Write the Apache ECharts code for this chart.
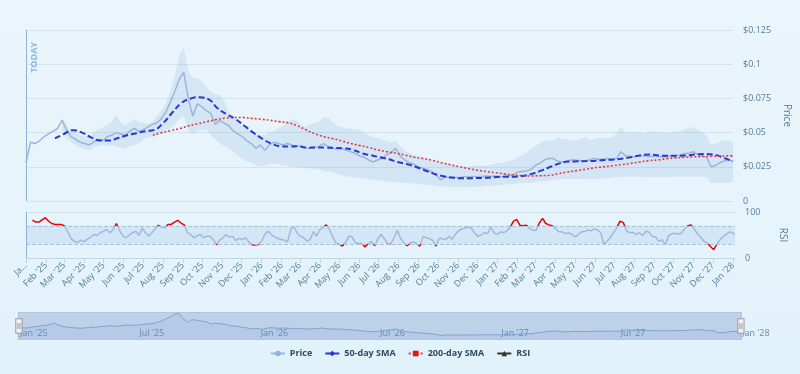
<!DOCTYPE html>
<html>
<head>
<meta charset="utf-8">
<script src="https://cdn.jsdelivr.net/npm/echarts@6/dist/echarts.min.js"></script>
<style>html,body{margin:0;padding:0;background:#e7f4fb;}#chart{width:800px;height:374px;}</style>
</head>
<body>
<div id="chart"></div>
<script>
// ---------- data ----------
const START_DATE = '2025-01-01';
const DAY_COUNT = 1099; // daily categories 2025-01-01 .. 2028-01-04
const priceTicks = [0, 0.025, 0.05, 0.075, 0.1, 0.125];
const rsiTicks = [0, 100];
const rsiLevels = [30, 70];

// Price, weekly samples from day 0 (last value = end of range)
const priceStartDay = 0, priceStep = 7;
const priceValues = [
  0.028, 0.043, 0.042, 0.044, 0.047, 0.049, 0.051, 0.053, 0.059, 0.052,
  0.047, 0.045, 0.043, 0.042, 0.041, 0.043, 0.045, 0.044, 0.047, 0.048,
  0.050, 0.049, 0.048, 0.051, 0.053, 0.051, 0.052, 0.054, 0.056, 0.057,
  0.060, 0.065, 0.072, 0.080, 0.089, 0.094, 0.075, 0.062, 0.071, 0.069,
  0.066, 0.064, 0.056, 0.059, 0.057, 0.055, 0.051, 0.049, 0.047, 0.044,
  0.042, 0.0385, 0.041, 0.037, 0.041, 0.043, 0.042, 0.041, 0.042, 0.041,
  0.040, 0.040, 0.039, 0.0385, 0.039, 0.040, 0.042, 0.040, 0.0385, 0.038,
  0.0385, 0.037, 0.036, 0.035, 0.033, 0.032, 0.030, 0.0285, 0.030, 0.031,
  0.034, 0.035, 0.0385, 0.033, 0.030, 0.028, 0.027, 0.025, 0.024, 0.023,
  0.0214, 0.019, 0.0154, 0.0178, 0.017, 0.0175, 0.017, 0.018, 0.0175, 0.018,
  0.0178, 0.018, 0.0182, 0.018, 0.0183, 0.0178, 0.018, 0.0185, 0.019, 0.021,
  0.0215, 0.022, 0.023, 0.026, 0.0276, 0.030, 0.031, 0.031, 0.029, 0.0285,
  0.029, 0.030, 0.030, 0.0295, 0.0295, 0.030, 0.031, 0.0305, 0.0305, 0.031,
  0.0305, 0.031, 0.036, 0.033, 0.0325, 0.0324, 0.033, 0.033, 0.0325, 0.0327,
  0.0325, 0.0324, 0.0324, 0.033, 0.033, 0.0335, 0.0345, 0.035, 0.036, 0.034,
  0.033, 0.032, 0.025, 0.026, 0.028, 0.0295, 0.030,
  0.029
];

// Price envelope, weekly samples from day 56
const bandStartDay = 56, bandStep = 7;
const bandUpper = [
  0.061, 0.056, 0.052, 0.050, 0.048, 0.047, 0.047, 0.050, 0.052, 0.054,
  0.056, 0.058, 0.063, 0.058, 0.055, 0.058, 0.060, 0.058, 0.057, 0.056,
  0.058, 0.062, 0.066, 0.071, 0.080, 0.092, 0.106, 0.112, 0.095, 0.090,
  0.090, 0.087, 0.0835, 0.080, 0.078, 0.0775, 0.073, 0.065, 0.062, 0.058,
  0.055, 0.053, 0.051, 0.049, 0.048, 0.048, 0.050, 0.051, 0.053, 0.055,
  0.057, 0.060, 0.059, 0.056, 0.054, 0.056, 0.057, 0.058, 0.061, 0.061,
  0.058, 0.055, 0.054, 0.053, 0.053, 0.052, 0.052, 0.050, 0.048, 0.047,
  0.046, 0.0446, 0.044, 0.043, 0.044, 0.040, 0.037, 0.035, 0.0336, 0.033,
  0.0324, 0.031, 0.030, 0.029, 0.028, 0.0276, 0.027, 0.026, 0.0256, 0.0255,
  0.025, 0.0255, 0.026, 0.026, 0.026, 0.0263, 0.027, 0.0276, 0.028, 0.029,
  0.030, 0.032, 0.0335, 0.035, 0.038, 0.040, 0.042, 0.0446, 0.044, 0.044,
  0.047, 0.045, 0.0455, 0.044, 0.0445, 0.045, 0.047, 0.045, 0.045, 0.046,
  0.046, 0.046, 0.0465, 0.0495, 0.054, 0.050, 0.050, 0.0505, 0.050, 0.0495,
  0.050, 0.0505, 0.0505, 0.050, 0.0495, 0.050, 0.0505, 0.051, 0.052, 0.054,
  0.0535, 0.052, 0.050, 0.048, 0.041, 0.042, 0.0435, 0.0446, 0.044,
  0.043
];
const bandLower = [
  0.052, 0.047, 0.043, 0.041, 0.039, 0.038, 0.037, 0.039, 0.040, 0.041,
  0.040, 0.041, 0.040, 0.039, 0.0385, 0.040, 0.041, 0.042, 0.045, 0.046,
  0.047, 0.048, 0.050, 0.052, 0.053, 0.056, 0.060, 0.062, 0.052, 0.049,
  0.051, 0.052, 0.052, 0.048, 0.045, 0.042, 0.040, 0.0385, 0.036, 0.033,
  0.031, 0.029, 0.0285, 0.026, 0.025, 0.026, 0.027, 0.0275, 0.027, 0.026,
  0.0255, 0.025, 0.025, 0.0245, 0.024, 0.024, 0.0235, 0.023, 0.022, 0.0214,
  0.021, 0.020, 0.019, 0.018, 0.0178, 0.0172, 0.017, 0.0165, 0.016, 0.0155,
  0.0152, 0.015, 0.014, 0.014, 0.0138, 0.0135, 0.0133, 0.013, 0.013, 0.0125,
  0.012, 0.0118, 0.0115, 0.011, 0.0107, 0.0105, 0.0105, 0.0103, 0.0103, 0.0103,
  0.0103, 0.0105, 0.0105, 0.0107, 0.011, 0.011, 0.0112, 0.0117, 0.012, 0.0122,
  0.0125, 0.013, 0.013, 0.0134, 0.0136, 0.0138, 0.014, 0.0145, 0.015, 0.0154,
  0.0158, 0.016, 0.016, 0.016, 0.016, 0.016, 0.016, 0.016, 0.0162, 0.0163,
  0.0165, 0.0166, 0.017, 0.0175, 0.0178, 0.0178, 0.0178, 0.0178, 0.0178, 0.0178,
  0.0176, 0.0175, 0.0175, 0.0175, 0.0176, 0.0176, 0.0177, 0.0178, 0.0178, 0.0178,
  0.0178, 0.0178, 0.0178, 0.0175, 0.0134, 0.0132, 0.013, 0.0133, 0.0137,
  0.014
];

// 50-day SMA, samples every 14 days from day 45
const sma50StartDay = 45, sma50Step = 14;
const sma50Values = [
  0.0458, 0.049, 0.0518, 0.050, 0.0465, 0.0443, 0.0442, 0.046, 0.048, 0.0495,
  0.051, 0.052, 0.057, 0.0645, 0.0715, 0.0748, 0.0758, 0.0745, 0.068, 0.0635,
  0.060, 0.055, 0.050, 0.0455, 0.042, 0.040, 0.0398, 0.040, 0.039, 0.0392,
  0.039, 0.0388, 0.0385, 0.0375, 0.035, 0.0335, 0.032, 0.0305, 0.0285, 0.027,
  0.025, 0.0225, 0.020, 0.0182, 0.0172, 0.0166, 0.0166, 0.0168, 0.017, 0.0175,
  0.0178, 0.0178, 0.0185, 0.020, 0.0224, 0.025, 0.0275, 0.0288, 0.029, 0.0292,
  0.0295, 0.030, 0.0303, 0.031, 0.0322, 0.0335, 0.034, 0.0333, 0.033, 0.033,
  0.0333, 0.034, 0.0343, 0.034, 0.032, 0.0295,
  0.029
];

// 200-day SMA, samples every 14 days from day 197
const sma200StartDay = 197, sma200Step = 14;
const sma200Values = [
  0.048, 0.050, 0.0515, 0.053, 0.055, 0.0565, 0.058, 0.0595, 0.0605, 0.061,
  0.061, 0.0604, 0.0598, 0.059, 0.058, 0.0572, 0.055, 0.052, 0.049, 0.047,
  0.0455, 0.0438, 0.042, 0.0405, 0.039, 0.0373, 0.036, 0.035, 0.0335, 0.032,
  0.031, 0.0298, 0.028, 0.0265, 0.025, 0.0237, 0.0225, 0.0215, 0.0207, 0.0198,
  0.019, 0.0185, 0.0183, 0.0185, 0.0188, 0.020, 0.0212, 0.0222, 0.0232, 0.0242,
  0.025, 0.0258, 0.0266, 0.0275, 0.0285, 0.0295, 0.030, 0.031, 0.0315, 0.032,
  0.0323, 0.0325, 0.0327, 0.0328, 0.033,
  0.033
];

// RSI, samples every 5 days from day 10
const rsiStartDay = 10, rsiStep = 5;
const rsiValues = [
  82.6, 78, 78, 83, 87.7, 80, 75, 73, 73, 73,
  69, 56, 42, 36, 34, 39, 35, 41, 45, 51,
  49, 55, 58, 62, 55, 62, 75, 60, 48, 44,
  50, 55, 58, 49, 65, 55, 48, 55, 63, 71,
  67, 66, 73, 73, 78, 82, 76, 72, 55, 51,
  44, 48, 51, 44, 47.5, 47.5, 40, 29, 39, 44,
  51, 45, 47, 38, 43, 40, 44, 35, 29, 28,
  30, 37, 52, 58, 51, 46, 43, 40, 39, 35,
  62, 68, 54, 47, 44, 37, 40, 57, 48, 62,
  66, 72, 62, 46, 33, 30, 26, 34, 47.5, 46,
  33, 31.5, 32, 24, 31.5, 36, 27, 42, 51, 42,
  31, 31, 44, 60, 43, 33, 27, 33, 35, 31,
  26, 47, 44, 42, 38, 26, 43, 42, 40, 47,
  41, 52, 59, 63, 65, 67, 64, 54, 47, 50,
  55, 53, 68, 54, 52, 57, 55, 59, 67, 80,
  84, 71, 70, 71, 64, 61, 60, 76, 86, 75,
  72, 70, 64, 57, 57, 53, 55, 52, 46, 50,
  57, 57, 61, 59, 63, 61, 55, 30, 37, 45,
  55, 66, 80, 77, 59, 55, 56, 51, 55, 49,
  58, 56, 47, 46, 36, 40, 29, 48, 53, 54,
  52, 54, 63, 70, 72, 63, 52, 45, 36, 33,
  25, 18, 30, 40, 47, 52, 57, 54,
  52
];

// ---------- build ----------
const MONTHS = ['Jan','Feb','Mar','Apr','May','Jun','Jul','Aug','Sep','Oct','Nov','Dec'];
const categories = [];
(function () {
  const base = Date.parse(START_DATE + 'T00:00:00Z');
  for (let i = 0; i < DAY_COUNT; i++) categories.push(new Date(base + i * 86400000).toISOString().slice(0, 10));
})();
const LAST = DAY_COUNT - 1;
function toPairs(values, startDay, step) {
  return values.map((v, i) => [Math.min(startDay + i * step, LAST), v]);
}
function monthLabel(s) { return MONTHS[+s.slice(5, 7) - 1] + " '" + s.slice(2, 4); }
const isMonthStart = (i, v) => v.slice(8) === '01';
const isHalfYear = (i, v) => v.slice(5) === '01-01' || v.slice(5) === '07-01';

const pricePairs = toPairs(priceValues, priceStartDay, priceStep);
const lowerPairs = toPairs(bandLower, bandStartDay, bandStep);
const rangePairs = toPairs(bandUpper.map((u, i) => +(u - bandLower[i]).toFixed(5)), bandStartDay, bandStep);

const labelColor = '#54809a';
const gridColor = '#d3e2eb';
const FONT = '"Open Sans", "Noto Sans", sans-serif';

const chart = echarts.init(document.getElementById('chart'), null, { renderer: 'canvas' });
chart.setOption({
  animation: false,
  backgroundColor: { type: 'linear', x: 0, y: 0, x2: 0, y2: 1,
    colorStops: [{ offset: 0, color: '#ebf5fb' }, { offset: 1, color: '#e2f2fa' }] },
  textStyle: { fontFamily: FONT },
  legend: {
    bottom: 11, left: 'center', itemGap: 12, itemWidth: 14, itemHeight: 7,
    textStyle: { fontSize: 9, fontWeight: 'bold', color: '#2d4b62', fontFamily: FONT },
    data: ['Price', '50-day SMA', '200-day SMA',
      { name: 'RSI', itemStyle: { color: '#333' }, lineStyle: { color: '#333' } }]
  },
  grid: [
    { left: 26, right: 65, top: 30, height: 171 },
    { left: 26, right: 65, top: 212, height: 46 },
    { left: 17, right: 59, top: 312, height: 28 }
  ],
  xAxis: [
    { type: 'category', gridIndex: 0, data: categories, boundaryGap: false, show: false },
    { type: 'category', gridIndex: 1, data: categories, boundaryGap: false,
      axisLine: { lineStyle: { color: '#c3d4df' } },
      axisTick: { interval: isMonthStart, length: 5, lineStyle: { color: '#c3d4df' } },
      axisLabel: { interval: isMonthStart, rotate: 45, fontSize: 9, color: labelColor, margin: 6,
        formatter: (v, i) => i === 0 ? 'Ja…' : monthLabel(v) },
      splitLine: { show: false } },
    { type: 'category', gridIndex: 2, data: categories, boundaryGap: false,
      axisLine: { show: false }, axisTick: { show: false },
      axisLabel: { interval: isHalfYear, inside: true, align: 'left', padding: [0, 0, 0, 3],
        fontSize: 9, color: '#5d89a6', margin: 2, formatter: (v) => monthLabel(v) } }
  ],
  yAxis: [
    { type: 'value', gridIndex: 0, position: 'right', min: priceTicks[0], max: priceTicks[priceTicks.length - 1],
      interval: priceTicks[1] - priceTicks[0],
      axisLabel: { color: labelColor, fontSize: 9, margin: 10,
        formatter: v => v === 0 ? '0' : '$' + parseFloat(v.toFixed(3)) },
      splitLine: { lineStyle: { color: gridColor } },
      name: 'Price', nameLocation: 'middle', nameRotate: -90, nameGap: 47,
      nameTextStyle: { color: labelColor, fontSize: 10 } },
    { type: 'value', gridIndex: 1, position: 'right', min: rsiTicks[0], max: rsiTicks[1], interval: rsiTicks[1],
      axisLabel: { color: labelColor, fontSize: 9, margin: 10 },
      splitLine: { lineStyle: { color: gridColor } },
      name: 'RSI', nameLocation: 'middle', nameRotate: -90, nameGap: 43,
      nameTextStyle: { color: labelColor, fontSize: 10 } },
    { type: 'value', gridIndex: 2, show: false, min: 0, max: 0.098 }
  ],
  visualMap: {
    type: 'piecewise', show: false, seriesIndex: 5, dimension: 1,
    pieces: [
      { lt: rsiLevels[0], color: '#ee0000' },
      { gte: rsiLevels[0], lte: rsiLevels[1], color: '#a0b8dc' },
      { gt: rsiLevels[1], color: '#ee0000' }
    ]
  },
  dataZoom: [{
    type: 'slider', xAxisIndex: [0, 1], filterMode: 'none', start: 0, end: 100,
    left: 17, right: 59, top: 312, height: 28,
    showDetail: false, showDataShadow: false, brushSelect: false, moveHandleSize: 0,
    backgroundColor: 'rgba(0,0,0,0)', fillerColor: 'rgba(102,133,194,0.3)', borderColor: '#b3c6d8',
    handleIcon: 'path://M0,0 L6,0 L6,14 L0,14 Z M2,4 L2,10 M4,4 L4,10',
    handleSize: '52%', handleStyle: { color: '#f2f2f2', borderColor: '#999', borderWidth: 1 }
  }],
  series: [
    { name: 'bandLower', type: 'line', xAxisIndex: 0, yAxisIndex: 0, data: lowerPairs, stack: 'band',
      symbol: 'none', silent: true, lineStyle: { opacity: 0 } },
    { name: 'bandRange', type: 'line', xAxisIndex: 0, yAxisIndex: 0, data: rangePairs, stack: 'band',
      symbol: 'none', silent: true, lineStyle: { opacity: 0 },
      areaStyle: { color: 'rgba(128,168,218,0.27)' } },
    { name: 'Price', type: 'line', xAxisIndex: 0, yAxisIndex: 0, data: pricePairs,
      symbol: 'circle', showSymbol: false, color: '#8fb3e3',
      lineStyle: { color: '#9bb5da', width: 1.5 },
      markLine: { silent: true, symbol: 'none',
        lineStyle: { color: '#8db4d6', type: 'solid', width: 1 },
        data: [{ xAxis: 0, label: { show: true, formatter: 'TODAY', position: 'insideEndBottom',
          color: '#8fb8dc', fontWeight: 'bold', fontSize: 9, distance: [12, 4] } }] } },
    { name: '50-day SMA', type: 'line', xAxisIndex: 0, yAxisIndex: 0, data: toPairs(sma50Values, sma50StartDay, sma50Step),
      smooth: true, symbol: 'diamond', showSymbol: false, color: '#2233cc',
      lineStyle: { color: '#2a37d0', width: 2, type: [6, 3] } },
    { name: '200-day SMA', type: 'line', xAxisIndex: 0, yAxisIndex: 0, data: toPairs(sma200Values, sma200StartDay, sma200Step),
      smooth: true, symbol: 'rect', showSymbol: false, color: '#ee1111',
      lineStyle: { color: '#e03a44', width: 1.6, type: [2, 2] } },
    { name: 'RSI', type: 'line', xAxisIndex: 1, yAxisIndex: 1, data: toPairs(rsiValues, rsiStartDay, rsiStep),
      symbol: 'triangle', showSymbol: false, lineStyle: { width: 1.5 },
      markArea: { silent: true, itemStyle: { color: 'rgba(150,188,228,0.22)' },
        data: [[{ yAxis: rsiLevels[0] }, { yAxis: rsiLevels[1] }]] },
      markLine: { silent: true, symbol: 'none', label: { show: false },
        data: [
          { yAxis: rsiLevels[1], lineStyle: { color: '#a9c3dc', type: 'dashed', width: 1 } },
          { yAxis: rsiLevels[0], lineStyle: { color: '#a9c3dc', type: 'dashed', width: 1 } },
          { xAxis: 0, lineStyle: { color: '#8db4d6', type: 'solid', width: 1 } }
        ] } },
    { name: 'navigator', type: 'line', xAxisIndex: 2, yAxisIndex: 2, data: pricePairs,
      symbol: 'none', silent: true, lineStyle: { color: '#8eafd8', width: 1 },
      areaStyle: { color: 'rgba(140,175,220,0.2)' } }
  ]
});
</script>
</body>
</html>
